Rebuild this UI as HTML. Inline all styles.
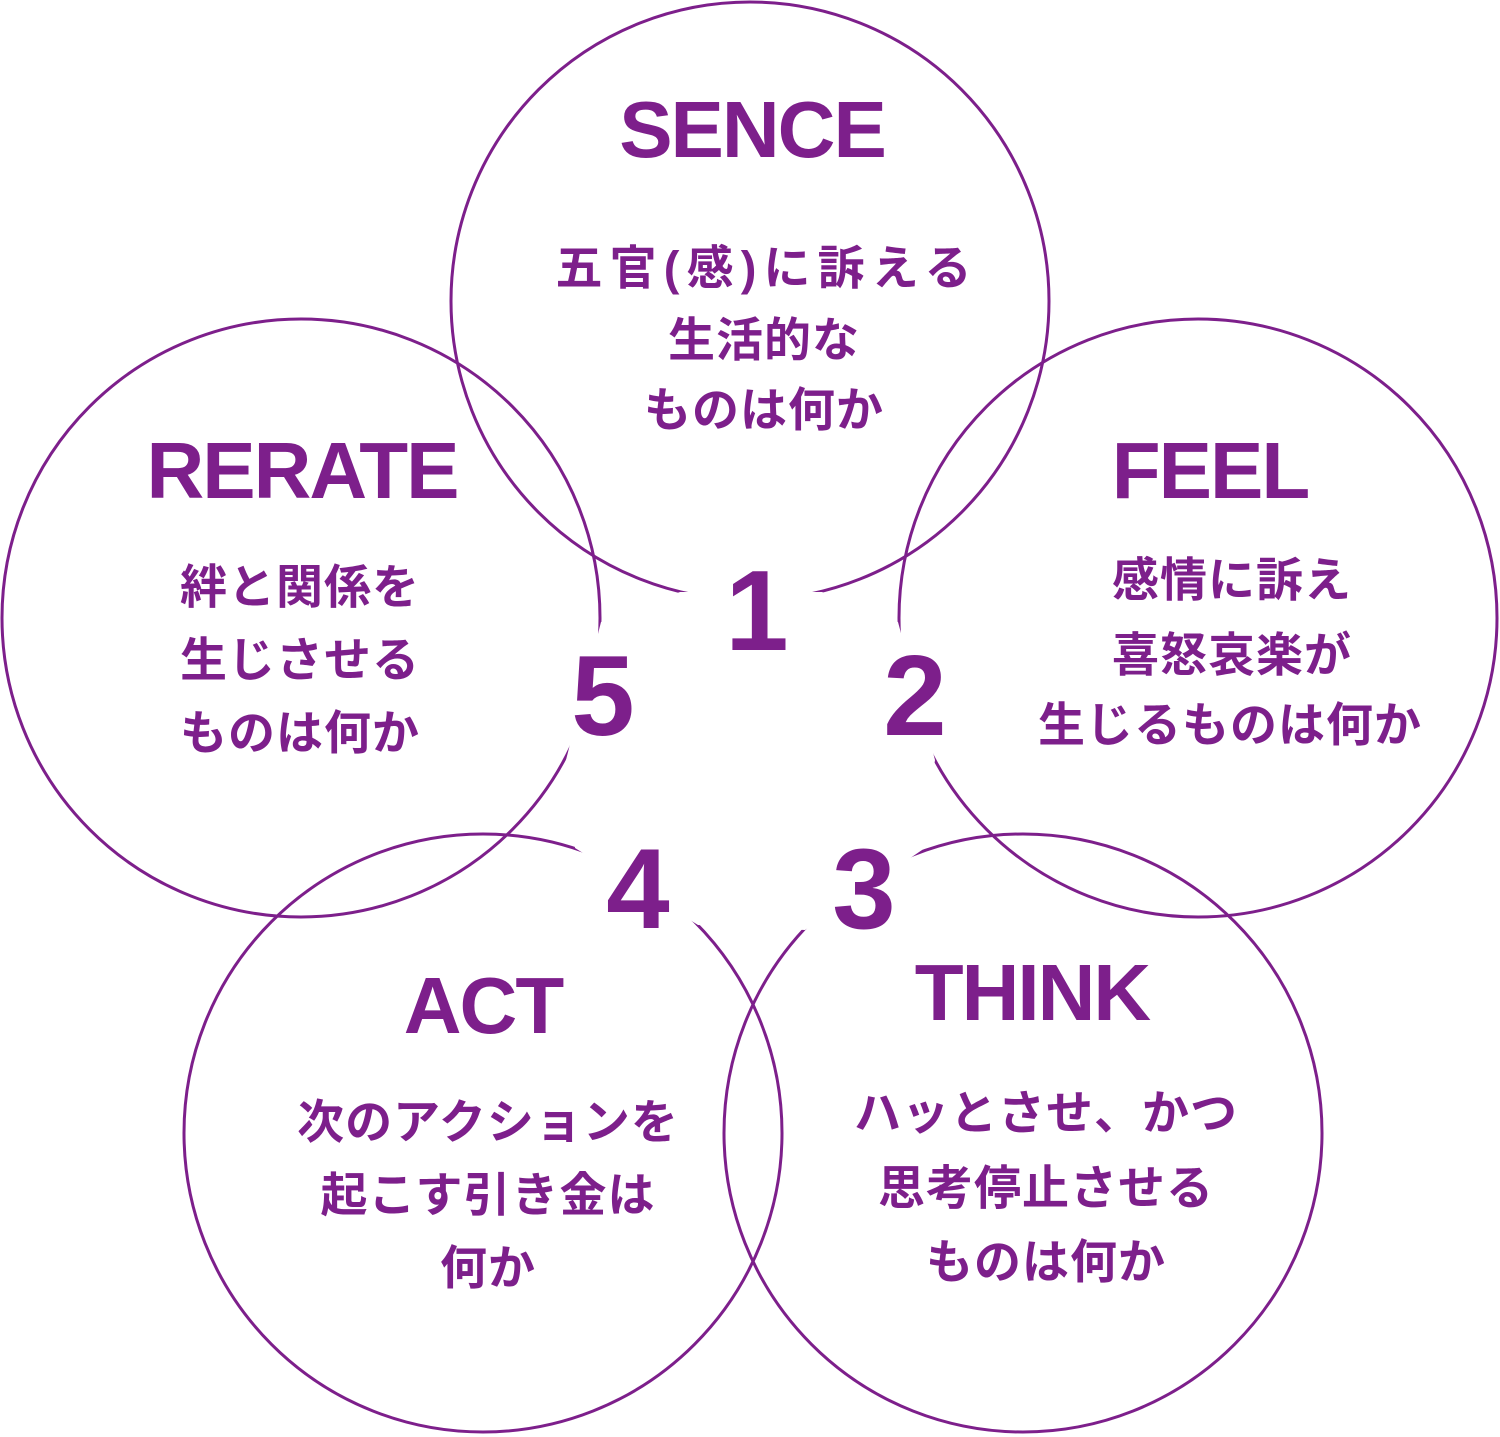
<!DOCTYPE html>
<html><head><meta charset="utf-8"><style>
html,body{margin:0;padding:0;background:#fff;}
svg{display:block;}
.t{font-family:"Liberation Sans",sans-serif;font-weight:bold;fill:#7d1f8b;font-size:80px;letter-spacing:-2px;text-anchor:middle;}
.n{font-family:"Liberation Sans",sans-serif;font-weight:bold;fill:#7d1f8b;font-size:114px;text-anchor:middle;}
.j{font-family:"Liberation Sans","Noto Sans CJK JP",sans-serif;font-weight:bold;fill:#7d1f8b;font-size:47px;letter-spacing:1px;text-anchor:middle;dominant-baseline:central;}
</style></head><body>
<svg width="1500" height="1437" viewBox="0 0 1500 1437" xmlns="http://www.w3.org/2000/svg">
<g fill="none" stroke="#7d1f8b" stroke-width="3">
<circle cx="750" cy="301" r="299"/>
<circle cx="1198" cy="618" r="299"/>
<circle cx="1023" cy="1133" r="299"/>
<circle cx="483" cy="1133" r="299"/>
<circle cx="301" cy="618" r="299"/>
</g>
<polygon fill="#fff" points="680,592 822,592 898,622 935,760 922,850 805,930 698,925 575,848 566,760 601,622"/>
<text class="t" x="752" y="157">SENCE</text>
<text class="t" x="1210" y="498">FEEL</text>
<text class="t" x="302" y="498">RERATE</text>
<text class="t" x="483" y="1033">ACT</text>
<text class="t" x="1032" y="1020">THINK</text>
<text class="n" x="757" y="650">1</text>
<text class="n" x="915" y="735">2</text>
<text class="n" x="864" y="928">3</text>
<text class="n" x="638" y="928">4</text>
<text class="n" x="603" y="735">5</text>
<text class="j" x="764" y="268" textLength="417" lengthAdjust="spacing">五官(感)に訴える</text>
<text class="j" x="764" y="340">生活的な</text>
<text class="j" x="764" y="410">ものは何か</text>
<text class="j" x="1232" y="580">感情に訴え</text>
<text class="j" x="1232" y="655">喜怒哀楽が</text>
<text class="j" x="1230" y="725">生じるものは何か</text>
<text class="j" x="300" y="587">絆と関係を</text>
<text class="j" x="300" y="660">生じさせる</text>
<text class="j" x="300" y="733">ものは何か</text>
<text class="j" x="488" y="1122">次のアクションを</text>
<text class="j" x="488" y="1195">起こす引き金は</text>
<text class="j" x="488" y="1268">何か</text>
<text class="j" x="1046" y="1113">ハッとさせ、かつ</text>
<text class="j" x="1046" y="1188">思考停止させる</text>
<text class="j" x="1046" y="1262">ものは何か</text>
</svg>
</body></html>
